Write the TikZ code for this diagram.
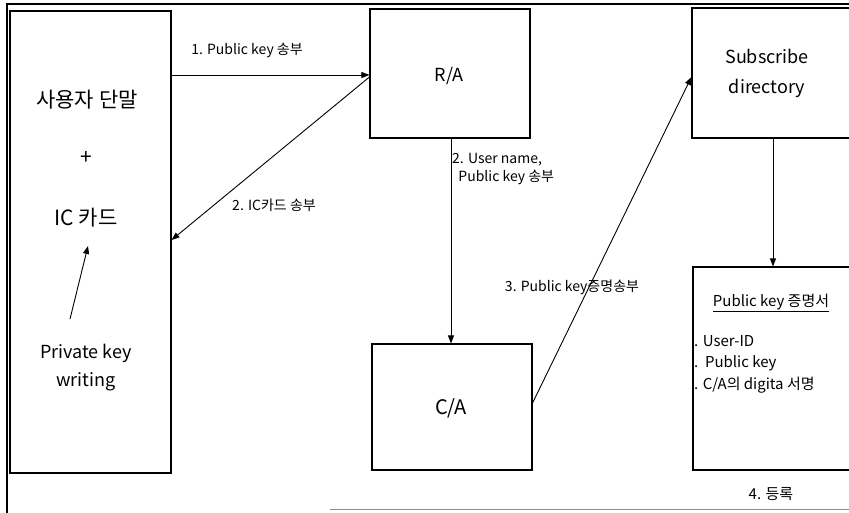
\documentclass[tikz,border=0pt]{standalone}
\usepackage{fontspec}
\setmainfont{Noto Sans CJK KR}
\usetikzlibrary{arrows.meta,calc}
\begin{document}
\begin{tikzpicture}[x=1pt,y=-1pt,
  box/.style={draw,line width=1.1pt,inner sep=0pt},
  conn/.style={line width=0.9pt,-{Triangle[length=8pt,width=6pt]}},
  lbl/.style={font=\fontsize{14}{16}\selectfont,inner sep=0pt},
  big/.style={font=\fontsize{21}{24}\selectfont,inner sep=0pt},
  mid/.style={font=\fontsize{18}{28}\selectfont,inner sep=0pt,align=center},
  cert/.style={font=\fontsize{15}{21.5}\selectfont,inner sep=0pt,align=left}]
\useasboundingbox (0,0) rectangle (849,513);
% outer frame
\draw[line width=1.1pt] (860,4) -- (7,4) -- (7,513);
\draw[line width=0.8pt,black!45] (330,509) -- (860,509);
% boxes
\node[box,minimum width=161pt,minimum height=462pt] (user) at (90.5,242) {};
\node[box,minimum width=160pt,minimum height=129pt] (ra) at (450,73.5) {};
\node[box,minimum width=162pt,minimum height=130pt] (sd) at (773,73) {};
\node[box,minimum width=160pt,minimum height=126pt] (ca) at (452,407) {};
\node[box,minimum width=162pt,minimum height=203pt] (cb) at (774,368.5) {};
% texts in boxes
\node[big] (t1) at (87,100) {사용자 단말};
\node[big] (plus) at (86,158) {+};
\node[big] (ic) at (86,218) {IC 카드};
\node[mid] (pkw) at (86,368) {Private key\\writing};
\node[font=\fontsize{18}{22}\selectfont,inner sep=0pt] (ratext) at (449,76) {R/A};
\node[mid,font=\fontsize{18}{30}\selectfont] (sdtext) at (767,73) {Subscribe\\directory};
\node[font=\fontsize{20}{22}\selectfont,inner sep=0pt] (catext) at (451,408) {C/A};
\node[font=\fontsize{15}{18}\selectfont,inner sep=0pt] (certtitle) at (771,303) {\underline{Public key 증명서}};
\node[cert,anchor=north west] (certlist) at (694,335) {. User-ID\\.\ \ Public key\\. C/A의 digita 서명};
\node[lbl,font=\fontsize{15}{18}\selectfont] (reg) at (771,494) {4. 등록};
% connector labels
\node[lbl] (l1) at (247,50) {1. Public key 송부};
\node[lbl] (l2) at (274,205) {2. IC카드 송부};
\node[lbl,align=left,anchor=west,font=\fontsize{14}{18}\selectfont] (l3) at (452,169) {2. User name,\\\ \ Public key 송부};
\node[lbl] (l4) at (572,287) {3. Public key증명송부};
% connectors
\coordinate (pkstart) at (70,319);
\coordinate (icend) at (88,246);
\draw[conn] (pkstart) -- (icend);
\draw[conn] (user.east |- 0,75) -- (ra.west |- 0,75);
\draw[conn] (ra.west |- 0,77) -- (user.east |- 0,240);
\draw[conn] (ra.south -| 451,0) -- (ca.north -| 451,0);
\draw[conn] (ca.east |- 0,403) -- (sd.west |- 0,77);
\draw[conn] (sd.south) -- (cb.north -| sd.south);
\end{tikzpicture}
\end{document}
